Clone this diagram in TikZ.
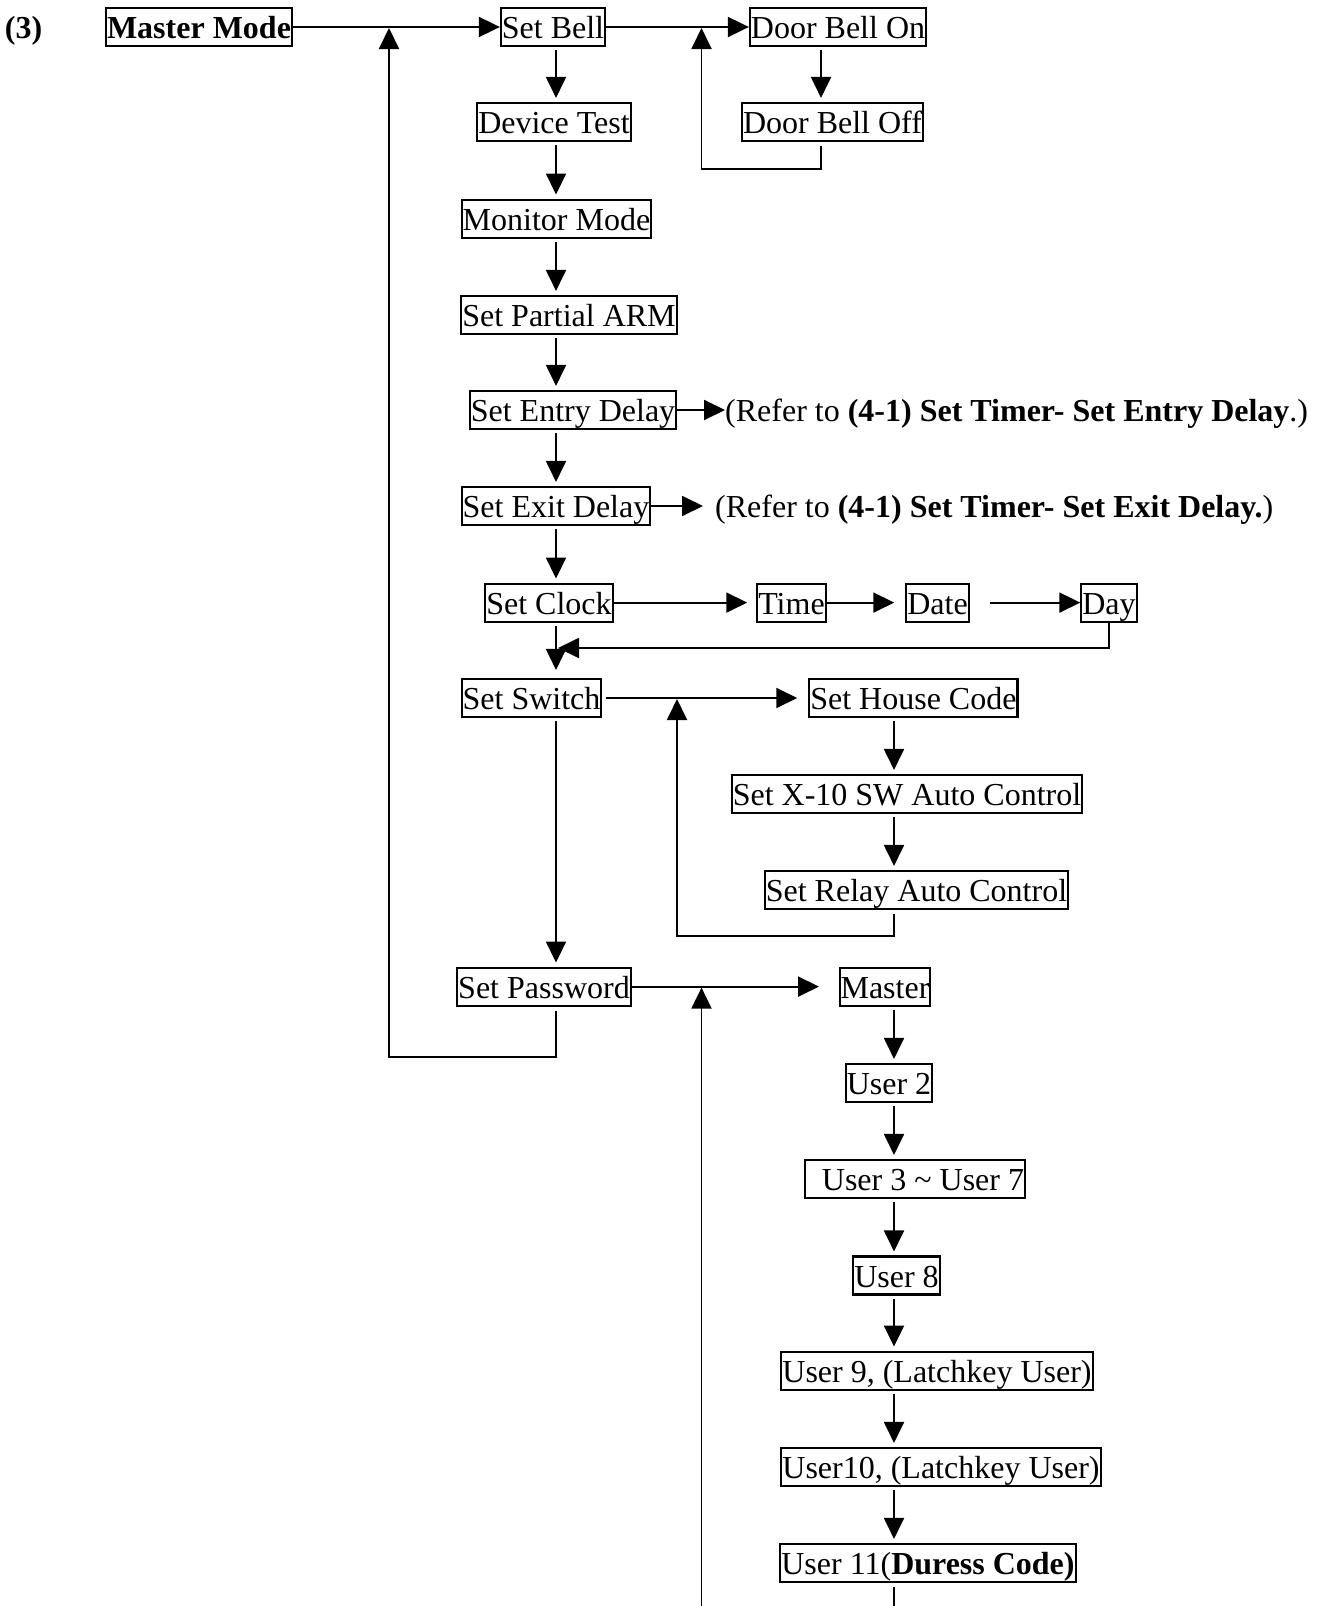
\documentclass[tikz,border=0pt]{standalone}
\usepackage{fontspec}
\setmainfont{Liberation Serif}
\usetikzlibrary{arrows.meta}

\begin{document}
\begin{tikzpicture}[x=1pt,y=-1pt,
  txt/.style={font=\fontsize{32}{38}\selectfont},
  boldtxt/.style={font=\fontsize{32}{38}\selectfont\bfseries},
  box/.style={draw, line width=2.1pt, inner xsep=1pt, inner ysep=1pt,
              text height=29.5pt, text depth=6.5pt, txt},
  note/.style={inner xsep=0pt, inner ysep=1pt, anchor=west,
               text height=29.5pt, text depth=6.5pt, txt},
  wire/.style={line width=1.9pt},
  arr/.style={line width=1.9pt, -{Triangle[length=21pt,width=20pt]}},
  down/.style={arr, shorten <=3pt, shorten >=4pt},
]
\useasboundingbox[fill=white] (0,0) rectangle (1322,1606);

% column guides and junction points
\coordinate (col)  at (556,0);
\coordinate (rcol) at (894,0);
\coordinate (dbcol) at (821,0);
\coordinate (jmaster) at (389,27);
\coordinate (jbell) at (701.5,27);
\coordinate (jswitch) at (677,698);
\coordinate (jpass) at (701.5,986.6);
\coordinate (bellret) at (0,169);
\coordinate (dayret) at (0,648);
\coordinate (dayend) at (558,648);
\coordinate (relayret) at (0,936);
\coordinate (pwret) at (0,1057);
\coordinate (bottom) at (0,1606);
\coordinate (passbottom) at (701.5,1606);

% title and main menu
\node[note, anchor=center, boldtxt] (num) at (23.5,27) {(3)};
\node[box, boldtxt] (master) at (199,27) {Master Mode};
\node[box] (setbell) at (553,27) {Set Bell};
\node[box] (dbon) at (838,27) {Door Bell On};
\node[box] (dboff) at (832.5,122) {Door Bell Off};
\node[box] (devtest) at (554,122) {Device Test};
\node[box] (monitor) at (556.5,218.6) {Monitor Mode};
\node[box] (partial) at (569,315) {Set Partial ARM};
\node[box] (entry) at (573,410) {Set Entry Delay};
\node[box] (exit) at (556,506) {Set Exit Delay};
\node[box] (clock) at (549,602.6) {Set Clock};
\node[box] (time) at (791.5,602.6) {Time};
\node[box] (date) at (937.5,602.6) {Date};
\node[box] (day) at (1109,602.6) {Day};
\node[box] (switch) at (531.5,698) {Set Switch};
\node[box] (house) at (913.4,698) {Set House Code};
\node[box] (xten) at (907,794) {Set X-10 SW Auto Control};
\node[box] (relay) at (916.5,890) {Set Relay Auto Control};
\node[box] (password) at (544,986.6) {Set Password};
\node[box] (mastpw) at (885,986.6) {Master};
\node[box] (user2) at (889,1083) {User 2};
\node[box] (user37) at (915,1179) {\hspace*{16pt}User 3 \textasciitilde{} User 7};
\node[box] (user8) at (896.5,1275.5) {User 8};
\node[box] (user9) at (937,1370.6) {User 9, (Latchkey User)};
\node[box] (user10) at (941,1467) {User10, (Latchkey User)};
\node[box] (user11) at (928,1563) {User 11(\textbf{Duress Code)}};

% references to other sections
\node[note] (entryref) at (725,410)
  {(Refer to \textbf{(4-1) Set Timer- Set Entry Delay}.)};
\node[note] (exitref) at (715,506)
  {(Refer to \textbf{(4-1) Set Timer- Set Exit Delay.})};

% horizontal connectors
\draw[arr] (master.east) -- (setbell.west);
\draw[arr] (setbell.east) -- (dbon.west);
\draw[arr] (entry.east) -- (entryref.west);
\draw[arr, shorten >=12pt] (exit.east) -- (exitref.west);
\draw[arr, shorten >=9pt] (clock.east) -- (time.west);
\draw[arr, shorten >=11pt] (time.east) -- (date.west);
\draw[arr, shorten <=20pt] (date.east) -- (day.west);
\draw[arr, shorten <=4pt, shorten >=11pt] (switch.east) -- (house.west);
\draw[arr, shorten >=19.5pt] (password.east) -- (mastpw.west);

% main column
\draw[down] (setbell.south -| col) -- (devtest.north -| col);
\draw[down] (devtest.south -| col) -- (monitor.north -| col);
\draw[down] (monitor.south -| col) -- (partial.north -| col);
\draw[down] (partial.south -| col) -- (entry.north -| col);
\draw[down] (entry.south -| col) -- (exit.north -| col);
\draw[down] (exit.south -| col) -- (clock.north -| col);
\draw[down, shorten >=8pt] (clock.south -| col) -- (switch.north -| col);
\draw[down] (switch.south -| col) -- (password.north -| col);

% door bell branch
\draw[down] (dbon.south -| dbcol) -- (dboff.north -| dbcol);
\draw[arr, shorten <=4pt, shorten >=1pt]
  (dboff.south -| dbcol) -- (dbcol |- bellret) -| (jbell);

% clock branch return
\draw[arr] (day.south) -- (day.south |- dayret) -- (dayend);

% switch branch
\draw[down] (house.south -| rcol) -- (xten.north -| rcol);
\draw[down] (xten.south -| rcol) -- (relay.north -| rcol);
\draw[arr, shorten <=4pt, shorten >=1pt]
  (relay.south -| rcol) -- (rcol |- relayret) -| (jswitch);

% password branch
\draw[down] (mastpw.south -| rcol) -- (user2.north -| rcol);
\draw[down] (user2.south -| rcol) -- (user37.north -| rcol);
\draw[down] (user37.south -| rcol) -- (user8.north -| rcol);
\draw[down] (user8.south -| rcol) -- (user9.north -| rcol);
\draw[down] (user9.south -| rcol) -- (user10.north -| rcol);
\draw[down] (user10.south -| rcol) -- (user11.north -| rcol);
\draw[wire, shorten <=4pt] (user11.south -| rcol) -- (rcol |- bottom);
\draw[arr, shorten >=1pt] (passbottom) -- (jpass);

% return to the top of the menu
\draw[arr, shorten <=4pt, shorten >=1pt]
  (password.south -| col) -- (col |- pwret) -| (jmaster);
\end{tikzpicture}
\end{document}
